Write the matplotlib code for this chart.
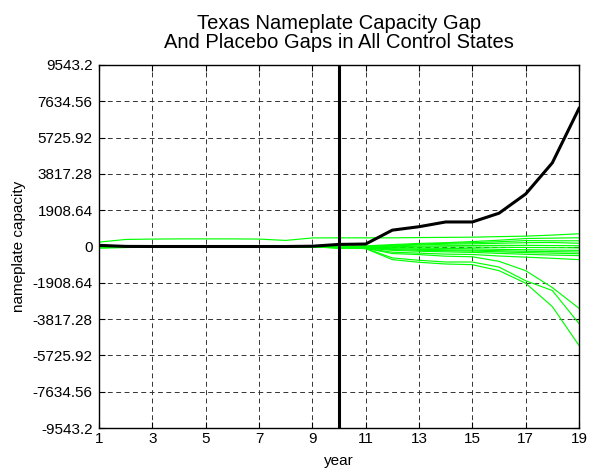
import matplotlib
matplotlib.use("Agg")
import matplotlib.pyplot as plt

plt.rcParams['font.family'] = ['Liberation Sans', 'DejaVu Sans']

years = list(range(1, 20))
treat_year = 10

# Texas gap
texas = [60, 5, 0, 0, 0, 0, 0, 0, 15, 110, 130, 860, 1040, 1290, 1290, 1750, 2760, 4400, 7260]

# placebo gaps for the control states
c1 = [230, 370, 390, 400, 400, 400, 390, 320, 450, 455, 455, 455, 470, 480, 490, 520, 545, 600, 670]
c2 = [-20, -10, -10, -5, -5, 0, 0, 5, 10, 20, 30, 100, 160, 200, 260, 330, 420, 440, 460]
c3 = [-30, -20, -15, -10, -10, -5, -5, 0, 0, 5, 10, 60, 120, 170, 200, 250, 310, 300, 300]
c4 = [-40, -30, -25, -20, -20, -15, -10, -10, -5, -10, -20, 30, 80, 120, 140, 170, 200, 210, 170]
c5 = [-50, -40, -30, -30, -25, -20, -20, -15, -10, -20, -30, -10, 20, 40, 50, 60, 60, 50, 40]
c6 = [-60, -45, -40, -35, -30, -30, -25, -20, -20, -30, -40, -40, -30, -20, -30, -40, -50, -60, -70]
c7 = [-70, -50, -45, -40, -35, -35, -30, -30, -25, -40, -50, -80, -90, -100, -120, -150, -170, -190, -200]
c8 = [-50, -40, -35, -30, -30, -25, -25, -20, -20, -50, -60, -120, -150, -170, -190, -220, -250, -270, -290]
c9 = [-30, -25, -20, -20, -15, -15, -10, -10, -10, -60, -80, -160, -200, -220, -240, -280, -320, -350, -380]
c10 = [-45, -35, -30, -25, -20, -20, -20, -15, -15, -70, -90, -200, -250, -280, -310, -360, -410, -450, -480]
c11 = [-60, -50, -40, -35, -30, -30, -30, -25, -20, -80, -100, -300, -350, -400, -420, -500, -560, -620, -690]
c12 = [-40, -30, -25, -20, -20, -15, -15, -10, -10, -60, -90, -370, -425, -510, -540, -780, -1270, -2160, -3250]
c13 = [-55, -40, -35, -30, -25, -25, -20, -20, -15, -70, -100, -600, -725, -815, -815, -1080, -1800, -2315, -4050]
c14 = [-65, -50, -40, -35, -30, -30, -25, -25, -20, -80, -110, -690, -830, -920, -955, -1270, -1930, -3160, -5200]
controls = [c1, c2, c3, c4, c5, c6, c7, c8, c9, c10, c11, c12, c13, c14]

xticks = [1, 3, 5, 7, 9, 11, 13, 15, 17, 19]
yticks = [-9543.2, -7634.56, -5725.92, -3817.28, -1908.64, 0,
          1908.64, 3817.28, 5725.92, 7634.56, 9543.2]
ytick_labels = ["-9543.2", "-7634.56", "-5725.92", "-3817.28", "-1908.64", "0",
                "1908.64", "3817.28", "5725.92", "7634.56", "9543.2"]

fig = plt.figure(figsize=(5.94, 4.75), dpi=100)
ax = fig.add_axes([99 / 594, 47 / 475, 480 / 594, 363 / 475])

for c in controls:
    ax.plot(years, c, color=(0, 1, 0), lw=0.85)
ax.plot(years, texas, color='black', lw=2.2)
ax.axvline(treat_year, color='black', lw=2.2)

ax.set_xlim(1, 19)
ax.set_ylim(-9543.2, 9543.2)
ax.set_xticks(xticks)
ax.set_yticks(yticks)
ax.set_yticklabels(ytick_labels)
ax.tick_params(direction='in', length=4, width=0.8, labelsize=11,
               top=True, right=True)
ax.tick_params(axis='y', pad=4.5)
ax.tick_params(axis='x', pad=3)
ax.grid(True, color='#333333', linestyle=(0, (5, 3.6)), lw=0.7)
for s in ax.spines.values():
    s.set_linewidth(1.0)

ax.set_xlabel("year", fontsize=11, labelpad=6)
ax.set_ylabel("nameplate capacity", fontsize=11, labelpad=5)
ax.set_title("Texas Nameplate Capacity Gap\nAnd Placebo Gaps in All Control States",
             fontsize=14.5, linespacing=1.0, pad=12)

fig.savefig("out.png", dpi=100)
